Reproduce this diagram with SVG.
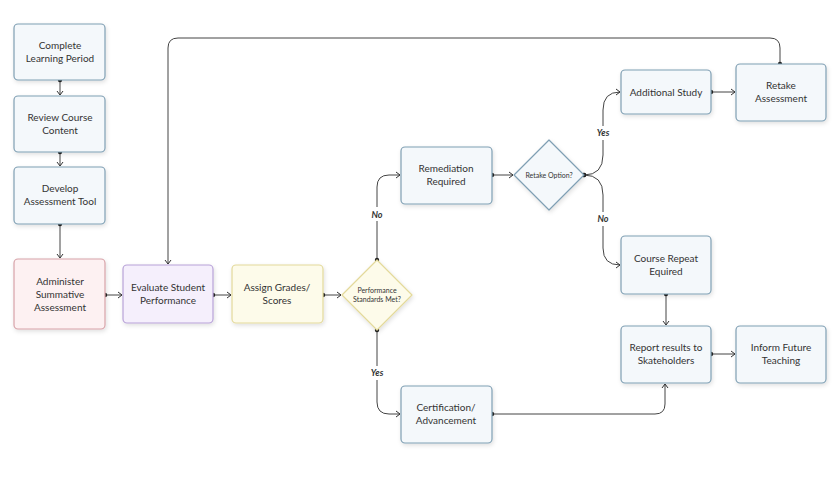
<svg xmlns="http://www.w3.org/2000/svg" width="840" height="480" viewBox="0 0 840 480">
<defs>
<marker id="ar" markerWidth="8" markerHeight="8" refX="6" refY="4" orient="auto" markerUnits="userSpaceOnUse"><path d="M2,1 L6,4 L2,7" fill="none" stroke="#333" stroke-width="1"/></marker>
<marker id="dt" markerWidth="6" markerHeight="6" refX="3" refY="3" markerUnits="userSpaceOnUse"><circle cx="3" cy="3" r="2.2" fill="#222"/></marker>
<filter id="sh" x="-10%" y="-10%" width="130%" height="130%"><feDropShadow dx="1" dy="2" stdDeviation="2" flood-color="#000" flood-opacity="0.12"/></filter>
</defs>
<style>
text{font-family:Lato,"Open Sans",sans-serif;font-size:10px;fill:#333;text-anchor:middle}
.n rect,.n path{fill:#f4f8fb;stroke:#7f9fb3;stroke-width:1.2;filter:url(#sh)}
.pk rect{fill:#fdf1f2;stroke:#d7a2a8}
.pu rect{fill:#f5effc;stroke:#b8a2d8}
.ye rect,.ye path{fill:#fdfbea;stroke:#e3d99a}
.c path{fill:none;stroke:#444;stroke-width:1;marker-start:url(#dt);marker-end:url(#ar)}
.lb{font-weight:bold;font-style:italic;font-size:9px}
.sm{font-size:7px}
</style>
<rect width="840" height="480" fill="#fff"/>
<g class="c">
<path d="M60,80 V95"/>
<path d="M60,152 V166"/>
<path d="M60,224 V258"/>
<path d="M105,295 H122"/>
<path d="M213,295 H231"/>
<path d="M323,295 H341"/>
<path d="M780,64 V48 Q780,38 770,38 H178 Q168,38 168,48 V264"/>
<path d="M377,260 V187 Q377,175 389,175 H400"/>
<path d="M377,330 V402 Q377,414 389,414 H400"/>
<path d="M492,414 H655 Q665,414 665,404 V384"/>
<path d="M492,175 H513"/>
<path d="M584,175 Q603,175 603,155 V110 Q603,92 620,92"/>
<path d="M584,175 Q603,175 603,195 V248 Q603,265 620,265"/>
<path d="M711,92 H735"/>
<path d="M666,294 V325"/>
<path d="M711,354 H735"/>
</g>
<rect x="364" y="207" width="26" height="14" fill="#fff"/><text class="lb" x="377" y="218">No</text>
<rect x="364" y="366" width="26" height="14" fill="#fff"/><text class="lb" x="377" y="376">Yes</text>
<rect x="590" y="126" width="26" height="14" fill="#fff"/><text class="lb" x="603" y="136">Yes</text>
<rect x="590" y="212" width="26" height="14" fill="#fff"/><text class="lb" x="603" y="222">No</text>
<g id="n1" class="n"><rect x="14" y="24" width="91" height="56" rx="4"/><text x="60" y="49">Complete</text><text x="60" y="62">Learning Period</text></g>
<g id="n2" class="n"><rect x="14" y="96" width="91" height="56" rx="4"/><text x="60" y="121">Review Course</text><text x="60" y="134">Content</text></g>
<g id="n3" class="n"><rect x="14" y="167" width="91" height="57" rx="4"/><text x="60" y="192">Develop</text><text x="60" y="205">Assessment Tool</text></g>
<g id="n4" class="n pk"><rect x="14" y="259" width="91" height="70" rx="4"/><text x="60" y="285">Administer</text><text x="60" y="298">Summative</text><text x="60" y="311">Assessment</text></g>
<g id="n5" class="n pu"><rect x="123" y="265" width="90" height="58" rx="4"/><text x="168" y="291">Evaluate Student</text><text x="168" y="304">Performance</text></g>
<g id="n6" class="n ye"><rect x="232" y="265" width="91" height="58" rx="4"/><text x="277" y="291">Assign Grades/</text><text x="277" y="304">Scores</text></g>
<g id="n7" class="n ye"><path d="M377,260 L412,295 L377,330 L342,295 Z" stroke-linejoin="round"/><text class="sm" x="377" y="293">Performance</text><text class="sm" x="377" y="302">Standards Met?</text></g>
<g id="n8" class="n"><rect x="401" y="147" width="91" height="57" rx="4"/><text x="446" y="172">Remediation</text><text x="446" y="185">Required</text></g>
<g id="n9" class="n"><path d="M549,140 L584,175 L549,210 L514,175 Z" stroke-linejoin="round"/><text class="sm" x="549" y="178">Retake Option?</text></g>
<g id="n10" class="n"><rect x="621" y="70" width="90" height="44" rx="4"/><text x="666" y="96">Additional Study</text></g>
<g id="n11" class="n"><rect x="736" y="64" width="90" height="57" rx="4"/><text x="781" y="89">Retake</text><text x="781" y="102">Assessment</text></g>
<g id="n12" class="n"><rect x="621" y="236" width="90" height="58" rx="4"/><text x="666" y="262">Course Repeat</text><text x="666" y="275">Equired</text></g>
<g id="n13" class="n"><rect x="621" y="326" width="90" height="57" rx="4"/><text x="666" y="351">Report results to</text><text x="666" y="364">Skateholders</text></g>
<g id="n14" class="n"><rect x="736" y="326" width="90" height="57" rx="4"/><text x="781" y="351">Inform Future</text><text x="781" y="364">Teaching</text></g>
<g id="n15" class="n"><rect x="401" y="386" width="91" height="57" rx="4"/><text x="446" y="411">Certification/</text><text x="446" y="424">Advancement</text></g>
</svg>
